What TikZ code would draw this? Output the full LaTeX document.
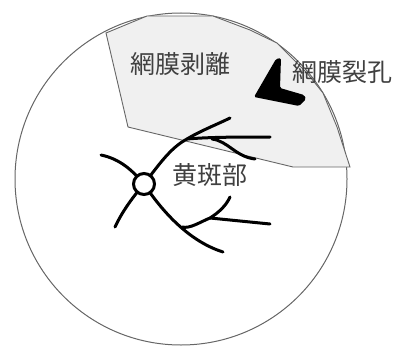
\documentclass[tikz,border=0pt]{standalone}
\usepackage{fontspec}
\newfontfamily\jpfont{Noto Sans CJK JP}
\definecolor{txtgray}{HTML}{404040}
\definecolor{edgegray}{HTML}{666666}
\definecolor{fillgray}{HTML}{F0F0F0}
\tikzset{
  vessel/.style={line width=3pt, black, line cap=round},
  lbl/.style={font=\jpfont\fontsize{25pt}{25pt}\selectfont, text=txtgray, inner sep=0pt},
}
\begin{document}
\begin{tikzpicture}[x=1pt,y=-1pt]
\useasboundingbox (0,0) rectangle (398,345);
% eye outline
\draw[edgegray, line width=1pt] (181,179) circle[radius=166];
% detached region
\draw[edgegray, line width=0.9pt, fill=fillgray]
  (106,33) -- (128,127) -- (293,167) -- (350,167) -- (337,127) -- (323,93)
  -- (307,73) -- (277,43) -- (250,30) -- (213,16) -- (147,16) -- cycle;
% retinal tear
\fill[black, rounded corners=1.5pt]
  (276,59) -- (281,58) -- (280,88) -- (304,95) -- (306,99) -- (299,106)
  -- (254,97) -- cycle;
% vessels
\coordinate (disc) at (144,184);
\coordinate (ju) at (187,139);
\coordinate (jl) at (182,227);
\coordinate (jl2) at (210,218);
\draw[vessel] (101,155) .. controls (120,159) and (132,170) .. (disc)
  .. controls (158,205) and (185,240) .. (223,252);
\draw[vessel] (115,227) .. controls (122,212) and (132,198) .. (disc)
  .. controls (158,166) and (170,148) .. (ju)
  .. controls (200,131) and (218,124) .. (230,118);
\draw[vessel] (ju) .. controls (210,137) and (240,137) .. (270,137);
\draw[vessel] (212,139) .. controls (228,141) and (236,157) .. (255,159);
\draw[vessel] (jl) .. controls (190,229) and (200,222) .. (jl2)
  .. controls (218,213) and (226,206) .. (230,197);
\draw[vessel] (jl2) .. controls (230,220) and (250,222) .. (270,224);
\node[circle, draw=black, line width=3pt, fill=white, minimum size=21pt, inner sep=0pt] (od) at (disc) {};
% labels
\node[lbl] (l1) at (180.5,64) {網膜剥離};
\node[lbl] (l2) at (342.5,72.5) {網膜裂孔};
\node[lbl] (l3) at (210,175) {黄斑部};
\end{tikzpicture}
\end{document}
